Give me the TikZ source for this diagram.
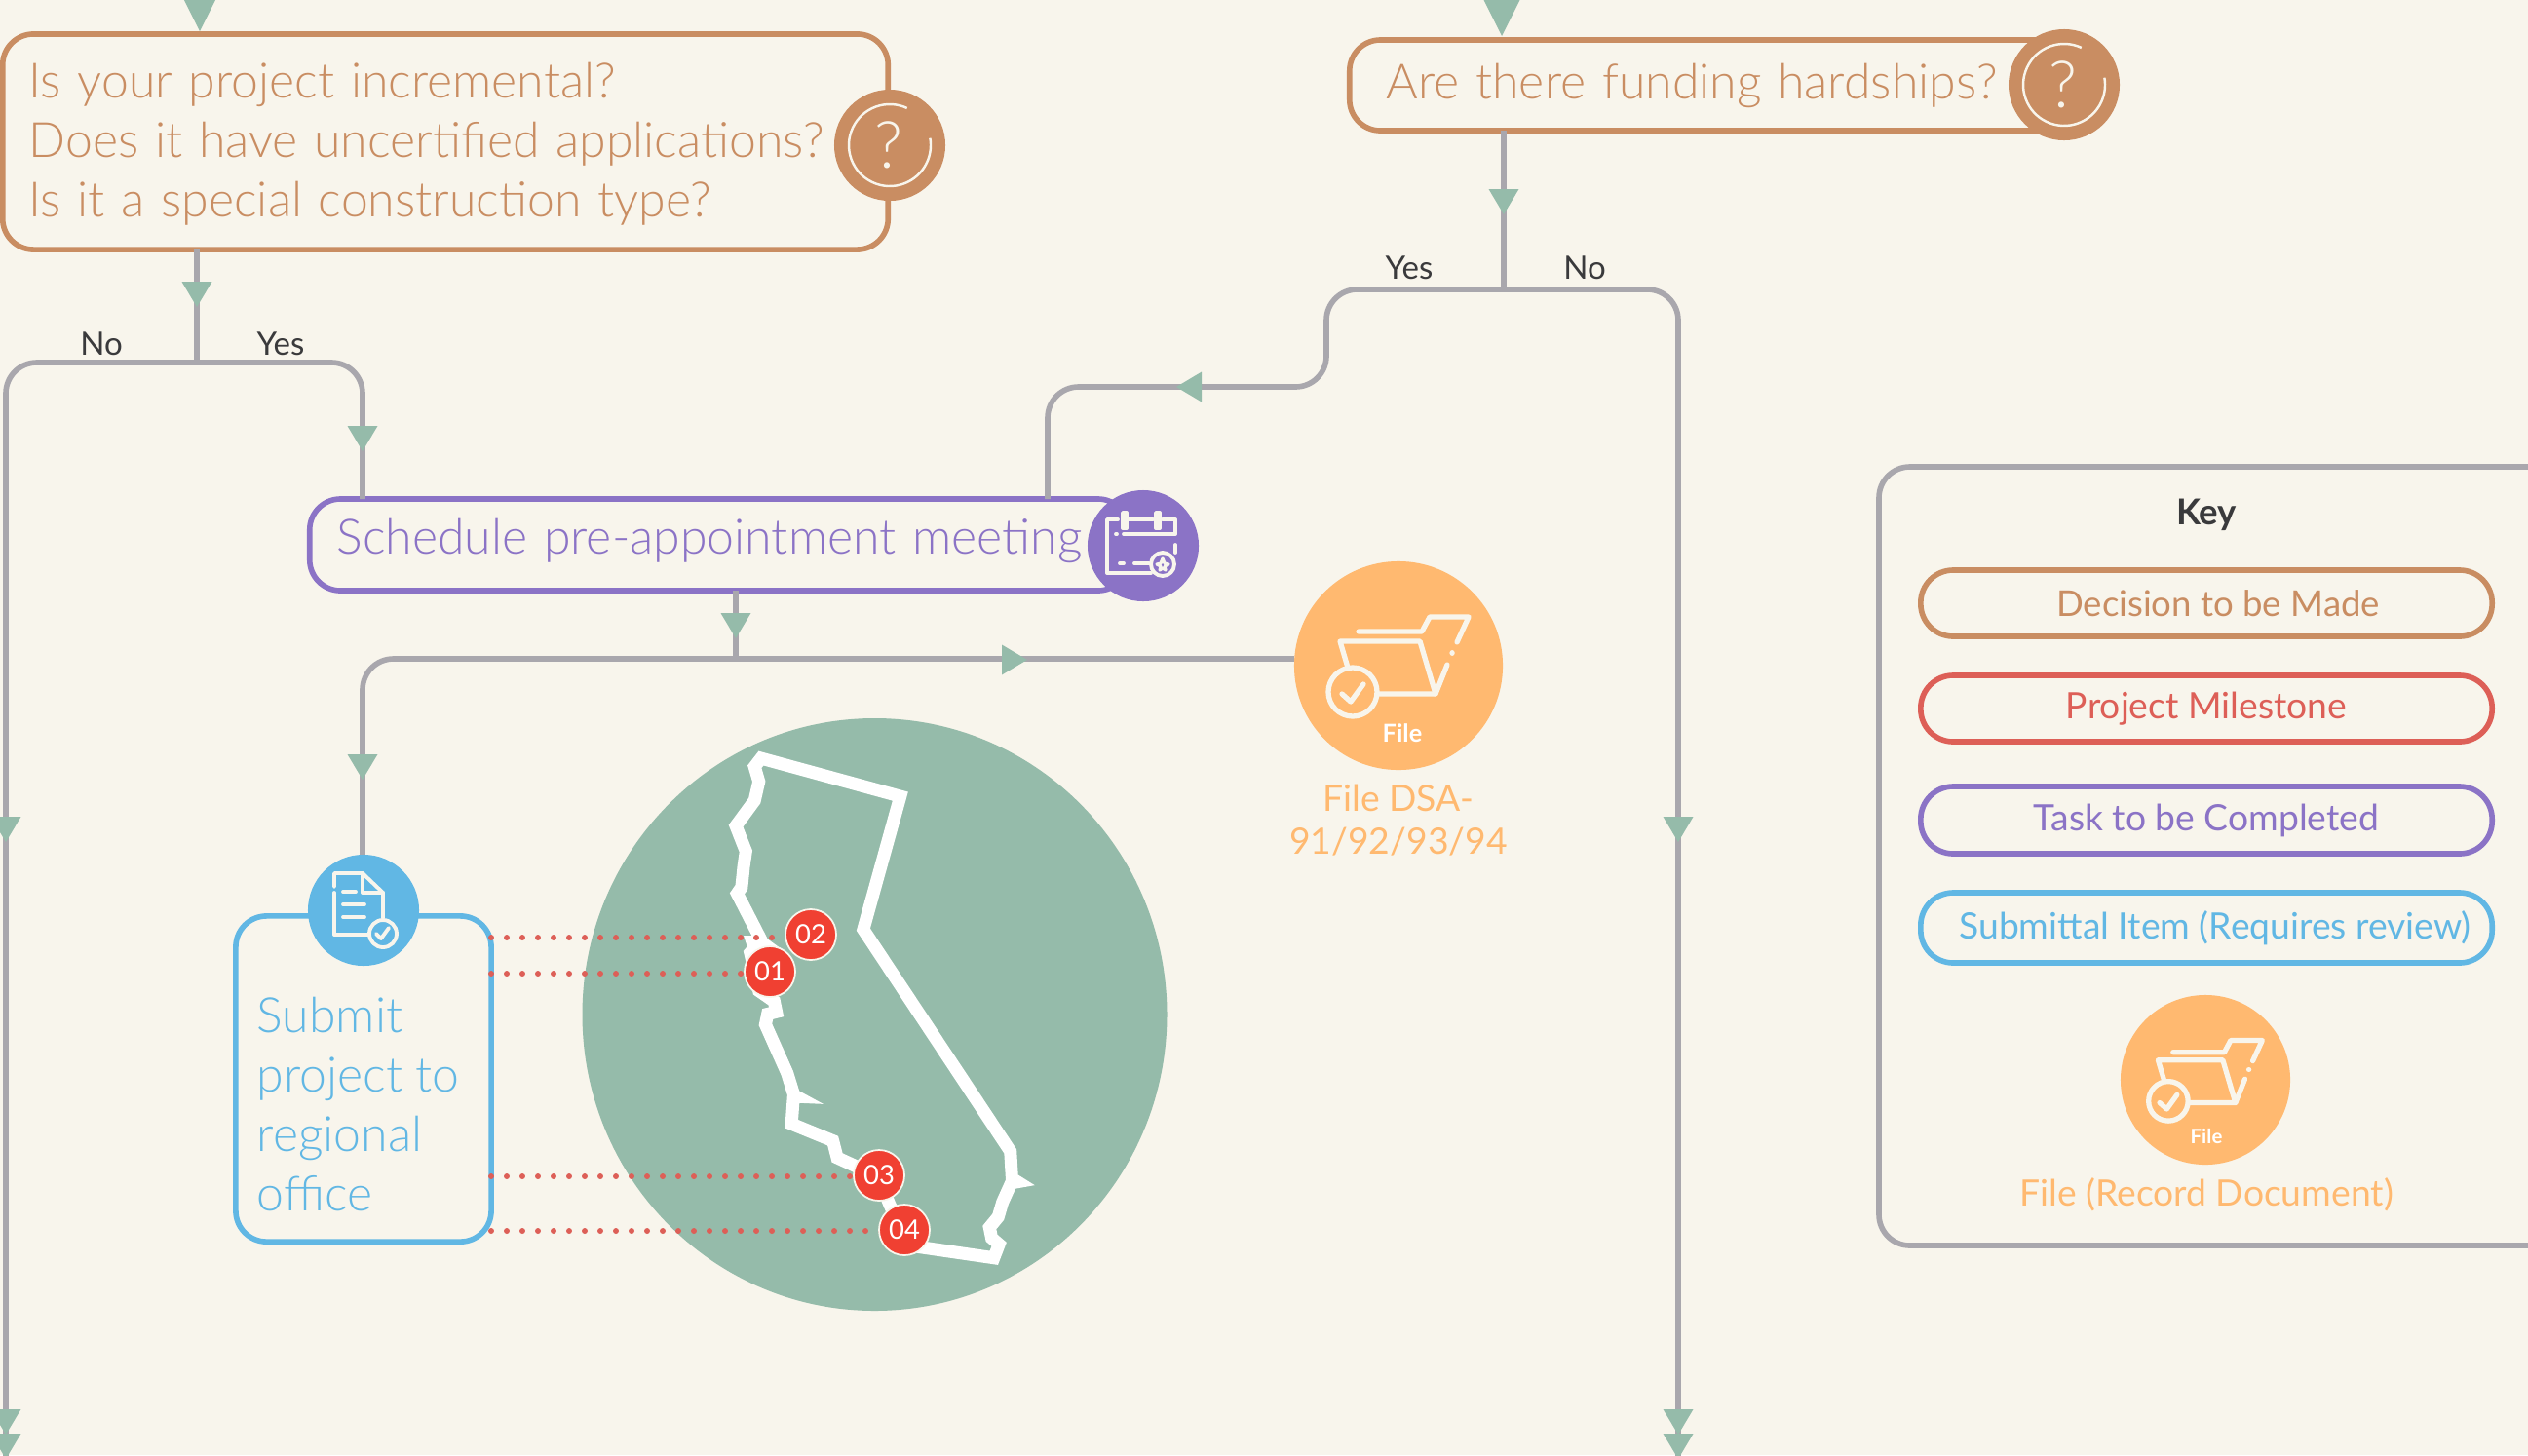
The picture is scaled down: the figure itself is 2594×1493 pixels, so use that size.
\documentclass[tikz,border=0pt]{standalone}
\usepackage{fontspec}
\setmainfont{Lato}
\newfontfamily\lightfont{Lato Light}
\usetikzlibrary{positioning}

\definecolor{bgcol}{HTML}{F8F5EC}
\definecolor{decisioncol}{HTML}{C98D62}
\definecolor{milestonecol}{HTML}{DD5F57}
\definecolor{taskcol}{HTML}{8B73C6}
\definecolor{submitcol}{HTML}{61B7E4}
\definecolor{filecol}{HTML}{FFB970}
\definecolor{tipcol}{HTML}{95BBAA}
\definecolor{linecol}{HTML}{A9A7AD}
\definecolor{redcol}{HTML}{F04032}
\definecolor{darkcol}{HTML}{3A3A3C}

\tikzset{
  flow/.style={draw=linecol,line width=1.6pt,rounded corners=9pt},
  tip/.pic={\fill[tipcol] (0,0) -- (-15.5,-26) -- (15.5,-26) -- cycle;},
  bigtip/.pic={\fill[tipcol] (0,0) -- (-23,-46) -- (23,-46) -- cycle;},
  bigbox/.style={rectangle,draw=#1,text=#1,line width=1.6pt,outer sep=0pt,fill=bgcol,rounded corners=9pt,
    align=left,font=\lightfont\fontsize{14.2}{17.4}\selectfont},
  keybox/.style={rectangle,draw=#1,text=#1,line width=1.6pt,outer sep=0pt,rounded corners=9.5pt,
    minimum width=5.86cm,inner sep=0pt,font=\fontsize{10.6}{12}\selectfont},
  iconcirc/.style={circle,fill=#1,minimum size=1.14cm,inner sep=0pt,outer sep=0pt},
  answer/.style={text=darkcol,inner sep=0pt,font=\fontsize{9.4}{11}\selectfont},
  pin/.style={circle,fill=redcol,draw=bgcol,line width=.5pt,minimum size=.52cm,inner sep=0pt,text=white,
    font=\fontsize{7.8}{9}\selectfont},
  dots/.style={draw=milestonecol,line width=1.7pt,line cap=round,dash pattern=on 0pt off 4.55pt},
  icon/.style={draw=bgcol,line width=1.5pt,line cap=round,line join=round},
  ask/.pic={
    \draw[bgcol,line width=.7pt] (-65:42) arc (-65:-370:42);
    \node[text=bgcol,inner sep=0pt,font=\lightfont\fontsize{19}{20}\selectfont] (-qm) at (-1,0) {?};
  },
  folder/.pic={
    \draw[icon] (-41,-35) -- (24,-35) -- (32,-50) -- (72,-50) -- (60,-24);
    \draw[icon] (55,-13) -- (55.1,-13);
    \draw[icon] (50,-1) -- (38,29) -- (-20,29);
    \draw[icon] (-52,2) -- (-60,-25) -- (22,-25) -- (38,29);
    \draw[icon] (-47,27) circle (25);
    \draw[icon] (-58,29) -- (-49,37) -- (-36,19);
  },
  calendar/.pic={
    \draw[icon,line width=1.1pt] (-37,-12) -- (-37,-27) -- (-26,-27);
    \draw[icon,line width=1.1pt] (-16,-27) -- (10,-27);
    \draw[icon,line width=1.1pt] (20,-27) -- (33,-27) -- (33,-12) -- (-20,-12);
    \draw[icon,line width=1.1pt] (-28,-12) -- (-27,-12);
    \draw[icon,line width=1.1pt] (-37,-12) -- (-37,28) -- (8,28);
    \draw[icon,line width=1.1pt] (33,-1) -- (33,7);
    \draw[icon,line width=1.1pt] (-21,-34) rectangle (-17,-18);
    \draw[icon,line width=1.1pt] (13,-34) rectangle (17,-18);
    \draw[icon,line width=1.1pt] (-9,18) -- (6,18);
    \draw[icon,line width=1.1pt] (-24,18) -- (-20,18);
    \draw[icon,line width=1.1pt] (20,19) circle (12);
    \draw[icon,line width=.9pt] (20,13) -- (22,18) -- (26,19) -- (22,21) -- (23,25) -- (20,23) -- (17,25) -- (18,21) -- (14,19) -- (18,18) -- cycle;
  },
  document/.pic={
    \draw[icon,line width=1.1pt] (-30,-24) -- (-30,-38) -- (-1,-38) -- (20,-18) -- (20,8);
    \draw[icon,line width=1.1pt] (-1,-38) -- (-1,-18) -- (20,-18);
    \draw[icon,line width=1.1pt] (-30,-18) -- (-30,25) -- (6,25);
    \draw[icon,line width=1.1pt] (-21,-19) -- (-8,-19);
    \draw[icon,line width=1.1pt] (-21,-6) -- (1,-6);
    \draw[icon,line width=1.1pt] (-21,7) -- (1,7);
    \draw[icon,line width=1.1pt] (20,24) circle (14);
    \draw[icon,line width=1.1pt] (13,24) -- (18,29) -- (26,18);
  },
}

\begin{document}
\begin{tikzpicture}[x=0.01cm,y=-0.01cm]

    % page
    \fill[bgcol] (0,0) rectangle (2594,1493);
    \useasboundingbox (0,0) rectangle (2594,1493);

    \begin{scope}
    \clip (0,0) rectangle (2594,1493);

    % free ends of the connectors
    \coordinate (left_B) at (6,1500) ;
    \coordinate (right_B) at (1722,1500) ;
    \coordinate (split_L) at (202,372) ;
    \coordinate (split_R) at (1543,297) ;
    \coordinate (join_M) at (755,676) ;

    % decision boxes
    \node[bigbox=decisioncol,minimum width=9.08cm,minimum height=2.21cm,text width=8.54cm] (incremental) at (457,145.5)
      {\rule{0pt}{11.5pt}Is your project incremental?\\Does it have uncertified applications?\\Is it a special construction type?};
    \node[bigbox=decisioncol,minimum width=7.4cm,minimum height=.93cm,text width=6.64cm] (hardship) at (1755,87.5)
      {Are there funding hardships?};

    % task and submittal
    \node[bigbox=taskcol,minimum width=8.4cm,minimum height=.94cm,text width=7.84cm] (meeting) at (738,559)
      {\raisebox{5pt}{Schedule pre-appointment meeting}};
    \node[bigbox=submitcol,minimum width=2.62cm,minimum height=3.34cm] (submit) at (373,1107) {};
    \node[text=submitcol,align=left,anchor=north west,inner sep=0pt,font=\lightfont\fontsize{14.2}{17.4}\selectfont] (submit_name) at (263,1022)
      {Submit\\project to\\regional\\office};

    % file
    \node[circle,fill=filecol,minimum size=2.14cm,inner sep=0pt,outer sep=0pt] (file) at (1435,683) {};
    \node[text=white,inner sep=0pt,font=\bfseries\fontsize{7.2}{9}\selectfont] (fileword) at (1439,752) {File};
    \node[text=filecol,align=center,inner sep=0pt,font=\fontsize{10.6}{12.5}\selectfont] (filename) at (1435,842) {File DSA-\\91/92/93/94};

    % connectors
    \draw[flow] (incremental.south -| split_L) -- (split_L);
    \draw[flow] (left_B) -- (6,372) -- (split_L) -- (372,372) -- (372,512);
    \draw[flow] (hardship.south -| split_R) -- (split_R);
    \draw[flow] (right_B) -- (1722,297) -- (split_R) -- (1361,297) -- (1361,397) -- (1075,397) -- (1075,512);
    \draw[flow] (meeting.south -| join_M) -- (join_M);
    \draw[flow] (file.west |- join_M) -- (join_M) -- (372,676) -- (372,880);

    % tips
    \pic at (205,32) {bigtip};
    \pic at (1541,37) {bigtip};
    \pic at (202,315) {tip};
    \pic at (1543,220) {tip};
    \pic at (372,463) {tip};
    \pic at (755,655) {tip};
    \pic at (372,800) {tip};
    \pic[rotate=-90] at (1207,397) {tip};
    \pic[rotate=90] at (1054,677) {tip};
    \pic at (6,864) {tip};
    \pic at (1722,864) {tip};
    \pic at (6,1472) {tip};
    \pic at (6,1497) {tip};
    \pic at (1722,1472) {tip};
    \pic at (1722,1497) {tip};

    % answers
    \node[answer] (no_L) at (104,353) {No};
    \node[answer] (yes_L) at (288,353) {Yes};
    \node[answer] (yes_R) at (1446,275) {Yes};
    \node[answer] (no_R) at (1626,275) {No};

    % icons
    \node[iconcirc=decisioncol] (ask_L) at (913,149) {};
    \pic at (ask_L) {ask};
    \node[iconcirc=decisioncol] (ask_R) at (2118,87) {};
    \pic at (ask_R) {ask};
    \node[iconcirc=taskcol] (cal) at (1173,560) {};
    \pic at (cal) {calendar};
    \node[iconcirc=submitcol] (doc) at (373,934) {};
    \pic at (doc) {document};
    \pic at (file) {folder};

    % map
    \fill[tipcol] (897.5,1041) ellipse [x radius=300,y radius=304];
    \begin{scope}[shift={(560,700)},xscale=0.4464,yscale=0.4337]
      \draw[white,line width=3.7pt,line join=miter]
        (495,180) -- (815,270) -- (730,585) -- (1068,1110) -- (1072,1180) -- (1050,1230) -- (1040,1265) -- (1020,1290)
        -- (1025,1315) -- (1042,1330) -- (1030,1362) -- (850,1335) -- (820,1300) -- (790,1235) -- (765,1170)
        -- (670,1125) -- (660,1085) -- (565,1045) -- (570,975) -- (555,925) -- (505,810) -- (510,785)
        -- (530,780) -- (525,755) -- (490,730) -- (470,640) -- (495,610) -- (440,500) -- (450,485) -- (455,435)
        -- (460,400) -- (437,340) -- (480,280) -- (490,235) -- (480,200) -- cycle;
      \fill[white] (1085,1165) -- (1124,1190) -- (1070,1200) -- cycle;
      \fill[white] (570,960) -- (638,998) -- (570,995) -- cycle;
      \fill[white] (455,600) -- (500,600) -- (540,630) -- (480,680) -- cycle;
    \end{scope}

    % pins
    \coordinate (dot_1) at (504,999) ;
    \coordinate (dot_2) at (504,962) ;
    \coordinate (dot_3) at (504,1207) ;
    \coordinate (dot_4) at (504,1263) ;
    \draw[dots] (dot_1) -- (776,999);
    \draw[dots] (dot_2) -- (818,962);
    \draw[dots] (dot_3) -- (888,1207);
    \draw[dots] (dot_4) -- (914,1263);
    \node[pin] (pin_1) at (790,997) {01};
    \node[pin] (pin_2) at (832,959) {02};
    \node[pin] (pin_3) at (902,1206) {03};
    \node[pin] (pin_4) at (928,1262) {04};

    % key
    \draw[draw=linecol,line width=1.6pt,rounded corners=9pt] (2620,479) -- (1928,479) -- (1928,1278) -- (2620,1278);
    \node[text=darkcol,inner sep=0pt,font=\bfseries\fontsize{10.4}{12}\selectfont] (keytitle) at (2264,528) {Key};
    \node[keybox=decisioncol,minimum height=.68cm,font=\fontsize{10.4}{12}\selectfont] (key_1) at (2264,619) {\hspace{.24cm}Decision to be Made};
    \node[keybox=milestonecol,minimum height=.68cm] (key_2) at (2264,727) {Project Milestone};
    \node[keybox=taskcol,minimum height=.69cm] (key_3) at (2264,841.5) {Task to be Completed};
    \node[keybox=submitcol,minimum height=.72cm] (key_4) at (2264,952) {\hspace{.18cm}Submittal Item (Requires review)};
    \node[circle,fill=filecol,minimum size=1.74cm,inner sep=0pt] (key_5) at (2263,1108) {};
    \pic[scale=.81] at (key_5) {folder};
    \node[text=white,inner sep=0pt,font=\bfseries\fontsize{5.8}{7}\selectfont] (key_5word) at (2264,1166) {File};
    \node[text=filecol,inner sep=0pt,font=\fontsize{10.6}{12}\selectfont] (key_5name) at (2264,1226) {File (Record Document)};

    \end{scope}
\end{tikzpicture}
\end{document}
